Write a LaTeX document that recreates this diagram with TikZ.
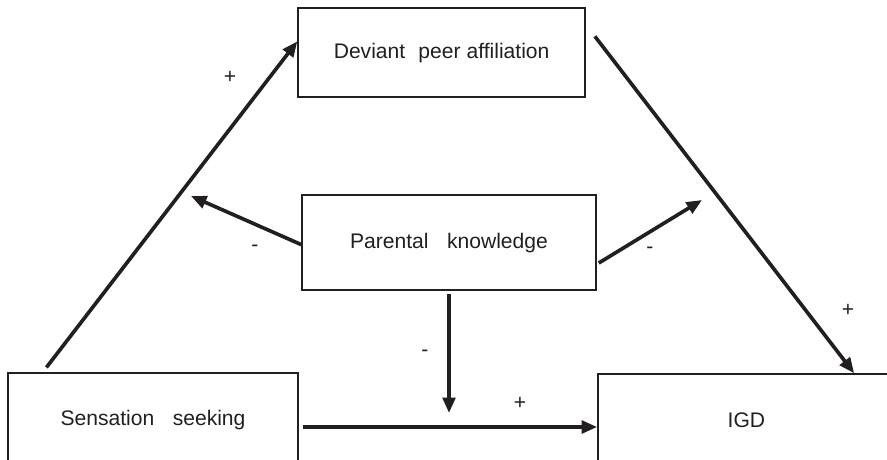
\documentclass[tikz,border=0pt]{standalone}
\usepackage{fontspec}
\setmainfont{Liberation Sans}
\usetikzlibrary{calc, positioning, arrows.meta}
\definecolor{InkBlack}{RGB}{35, 31, 32}

\begin{document}
\begin{tikzpicture}[
        construct/.style={draw=InkBlack, line width=1.1pt, minimum height=2.3cm, minimum width=7.3cm,
                      align=center, font=\fontsize{15}{18}\selectfont, text=InkBlack},
        arrow/.style={-{Triangle[length=11pt, width=9pt]}, line width=2.6pt, InkBlack},
        sign/.style={font=\fontsize{15}{17}\selectfont, text=InkBlack}]

        % frame of the figure (boxes at the bottom run off the edge)
        \clip (0, 0) rectangle (22.175, 11.475);

        % Mediator
        \node[construct, minimum width=7.175cm, minimum height=2.225cm] (dev) at (11.04, 10.16) {%
            Deviant\hspace{0.35em} peer affiliation};
        % Moderator
        \node[construct, minimum width=7.35cm, minimum height=2.375cm] (par) at (11.225, 5.41) {%
            Parental\hspace{0.6em} knowledge};
        % Predictor and outcome
        \node[construct, minimum width=7.25cm, minimum height=2.35cm] (sens) at (3.825, 0.975) {%
            Sensation\hspace{0.6em} seeking};
        \node[construct, minimum width=7.425cm, minimum height=2.3cm] (igd) at (18.66, 0.975) {%
            IGD};

        % free ends of the moderating arrows
        \coordinate (par-left) at (4.775, 6.575);
        \coordinate (par-right) at (17.55, 6.475);
        \coordinate (par-down) at (11.225, 1.15);

        % paths
        \draw[arrow] ([xshift=0.98cm, yshift=0.12cm]sens.north west) -- ([yshift=-0.85cm]dev.north west);
        \draw[arrow] ([xshift=0.225cm, yshift=-0.725cm]dev.north east) -- ([xshift=6.425cm]igd.north west);
        \draw[arrow] ([xshift=0.1cm, yshift=-0.175cm]sens.east) -- ([yshift=-0.175cm]igd.west);
        \draw[arrow] ([yshift=-0.05cm]par.west) -- (par-left);
        \draw[arrow] ([xshift=0.05cm, yshift=-0.51cm]par.east) -- (par-right);
        \draw[arrow] ([yshift=-0.08cm]par.south) -- (par-down);

        % signs
        \node[sign] (s1) at (5.75, 9.55) {+};
        \node[sign] (s2) at (6.375, 5.275) {-};
        \node[sign] (s3) at (16.25, 5.225) {-};
        \node[sign] (s4) at (21.2, 3.725) {+};
        \node[sign] (s5) at (10.625, 2.65) {-};
        \node[sign] (s6) at (13.0, 1.4) {+};
    \end{tikzpicture}
\end{document}
